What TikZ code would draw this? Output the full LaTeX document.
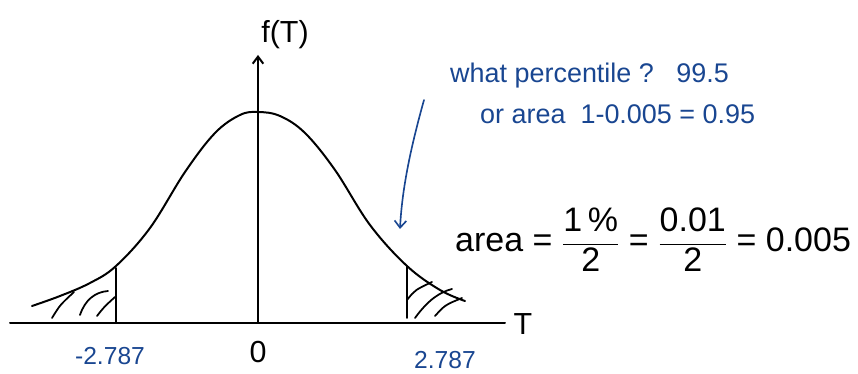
\documentclass[tikz,border=0pt]{standalone}
\usepackage{fontspec}
\setmainfont{Liberation Sans}
\usepackage{amsmath}
\usetikzlibrary{arrows.meta}
\definecolor{inkblue}{RGB}{25,70,145}

\begin{document}
\begin{tikzpicture}[
        x=0.03cm, y=-0.03cm,
        pen/.style={line width=1.7pt, line cap=round, line join=round},
        hatch/.style={line width=1.5pt, line cap=round},
        note/.style={text=inkblue, font=\fontsize{23}{27}\selectfont, inner sep=0pt},
        tick/.style={text=inkblue, font=\fontsize{21}{25}\selectfont, inner sep=0pt},
        lbl/.style={font=\fontsize{26}{30}\selectfont, inner sep=0pt}
    ]
        \useasboundingbox (0,0) rectangle (858,374);

        % Axes
        \coordinate (xl) at (10,323);
        \coordinate (xr) at (505,323);
        \coordinate (o) at (258,323);
        \coordinate (ytop) at (258,55);
        \draw[pen] (xl) -- (xr);
        \draw[pen, -{Straight Barb[length=6pt, width=9pt]}] (o) -- (ytop);
        \node[lbl] (tlab) at (523,324) {T};
        \node[lbl] (flab) at (285,35) {f(T)};

        % Density curve
        \draw[pen] plot[smooth, tension=0.6] coordinates {
            (32,306) (60,296) (90,283) (116,266) (150,228) (185,172)
            (215,133) (240,115) (258,112) (280,116) (305,133)
            (335,170) (370,225) (407,266) (440,290) (465,301)};

        % Critical values
        \coordinate (cl) at (116,323);
        \coordinate (cr) at (407,318);
        \draw[pen] (cl) -- ++(0,-55);
        \draw[pen] (cr) -- ++(0,-52);

        % Shading of the tails
        \draw[hatch] (52,318) .. controls (60,305) .. (74,292);
        \draw[hatch] (80,315) .. controls (85,300) and (95,292) .. (108,291);
        \draw[hatch] (97,316) .. controls (104,307) .. (115,297);
        \draw[hatch] (407,300) .. controls (415,290) .. (432,282);
        \draw[hatch] (415,318) .. controls (428,300) and (440,292) .. (452,289);
        \draw[hatch] (435,316) .. controls (445,305) .. (462,298);

        % Tick labels
        \node[tick] (lcrit) at (110,356) {-2.787};
        \node[lbl] (zero) at (258,352) {0};
        \node[tick] (rcrit) at (445,360) {2.787};

        % Question
        \node[note, anchor=west] (q1) at (450,76) {what percentile ?\ \ \ 99.5};
        \node[note, anchor=west] (q2) at (480,114) {or area\ \ 1-0.005 = 0.95};
        \coordinate (ptr) at (400,229);
        \draw[line width=1.4pt, inkblue, line cap=round, -{Straight Barb[length=6pt, width=10pt]}]
            (424,100) .. controls (410,150) and (402,190) .. (ptr);

        % Area working
        \node[lbl, font=\fontsize{29}{34}\selectfont, anchor=west] (area) at (455,240)
            {area = $\dfrac{\text{1\,\%}}{\text{2}}$ = $\dfrac{\text{0.01}}{\text{2}}$ = 0.005};
    \end{tikzpicture}
\end{document}
